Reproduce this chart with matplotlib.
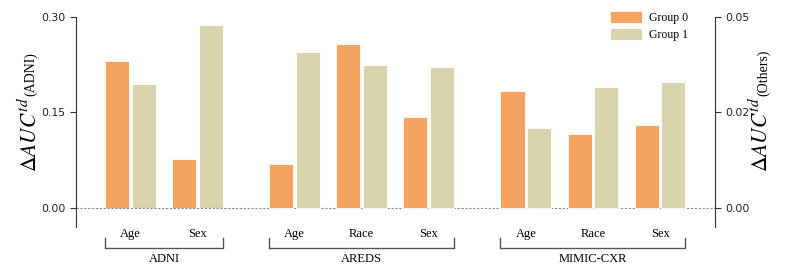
import matplotlib
matplotlib.use("Agg")
import matplotlib.pyplot as plt
import numpy as np

plt.rcParams['mathtext.fontset'] = 'stix'

datasets = ['ADNI', 'AREDS', 'MIMIC-CXR']
attrs = [['Age', 'Sex'], ['Age', 'Race', 'Sex'], ['Age', 'Race', 'Sex']]
# ADNI on left axis, others on right axis
group0 = [[0.231, 0.077], [0.0115, 0.0429, 0.0237], [0.0306, 0.0193, 0.0216]]
group1 = [[0.194, 0.287], [0.0409, 0.0374, 0.0368], [0.0209, 0.0317, 0.0330]]

c0 = '#F4A460'
c1 = '#D8D5AE'
serif = 'Liberation Serif'

fig = plt.figure(figsize=(7.93, 2.74), dpi=100)
ax = fig.add_axes([0.0958, 0.1726, 0.8058, 0.7654])
ax2 = ax.twinx()

w = 0.36
off = 0.2
starts = [0, 2.45, 5.9]
xt, xl = [], []
for k, ds in enumerate(datasets):
    pos = starts[k] + np.arange(len(attrs[k]))
    a = ax if k == 0 else ax2
    a.bar(pos - off, group0[k], w, color=c0, edgecolor='white', linewidth=0.6,
          label='Group 0' if k == 1 else None)
    a.bar(pos + off, group1[k], w, color=c1, edgecolor='white', linewidth=0.6,
          label='Group 1' if k == 1 else None)
    xt += list(pos)
    xl += attrs[k]
    # bracket under the group
    x0 = pos[0] - off - w / 2
    x1 = pos[-1] + off + w / 2
    tr = ax.get_xaxis_transform()
    ax.plot([x0, x0, x1, x1], [-0.054, -0.100, -0.100, -0.054], color='#555555',
            lw=1.0, transform=tr, clip_on=False)
    ax.text((x0 + x1) / 2, -0.125, ds, transform=tr, ha='center', va='top',
            fontsize=9, family=serif)

ax.set_xlim(-0.813, 8.72)
ax.set_ylim(-0.03, 0.30)
ax2.set_ylim(-0.005, 0.05)
ax.set_xticks(xt)
ax.set_xticklabels(xl, family=serif, fontsize=9)
ax.tick_params(axis='x', length=0, pad=1)
ax.set_yticks([0, 0.15, 0.30])
ax.set_yticklabels(['0.00', '0.15', '0.30'], fontsize=7.8)
ax2.set_yticks([0, 0.025, 0.05])
ax2.set_yticklabels(['0.00', '0.02', '0.05'], fontsize=7.8)
for a in (ax, ax2):
    a.tick_params(axis='y', length=4, width=0.8, colors='#333333', labelcolor='#222222')
    for s in ['top', 'bottom']:
        a.spines[s].set_visible(False)
ax.spines['right'].set_visible(False)
ax2.spines['left'].set_visible(False)
ax.spines['left'].set_color('#333333')
ax2.spines['right'].set_color('#333333')

ax.axhline(0, color='#888888', lw=0.8, ls=(0, (2, 1.5)))

# y labels
fig.text(0.0466, 0.372, r'$\Delta AUC^{td}$', rotation=90, rotation_mode='anchor',
         ha='left', va='baseline', fontsize=15.5)
fig.text(0.0432, 0.650, '(ADNI)', rotation=90, rotation_mode='anchor',
         ha='left', va='baseline', fontsize=10, family=serif)
fig.text(0.9685, 0.372, r'$\Delta AUC^{td}$', rotation=90, rotation_mode='anchor',
         ha='left', va='baseline', fontsize=15.5)
fig.text(0.9672, 0.650, '(Others)', rotation=90, rotation_mode='anchor',
         ha='left', va='baseline', fontsize=10, family=serif)

ax2.legend(loc='upper left', bbox_to_anchor=(0.819, 1.078), frameon=False,
           prop={'family': serif, 'size': 8.5}, handlelength=2.7, handleheight=1.2,
           labelspacing=0.3, handletextpad=0.6)

fig.savefig('out.png', dpi=100)
